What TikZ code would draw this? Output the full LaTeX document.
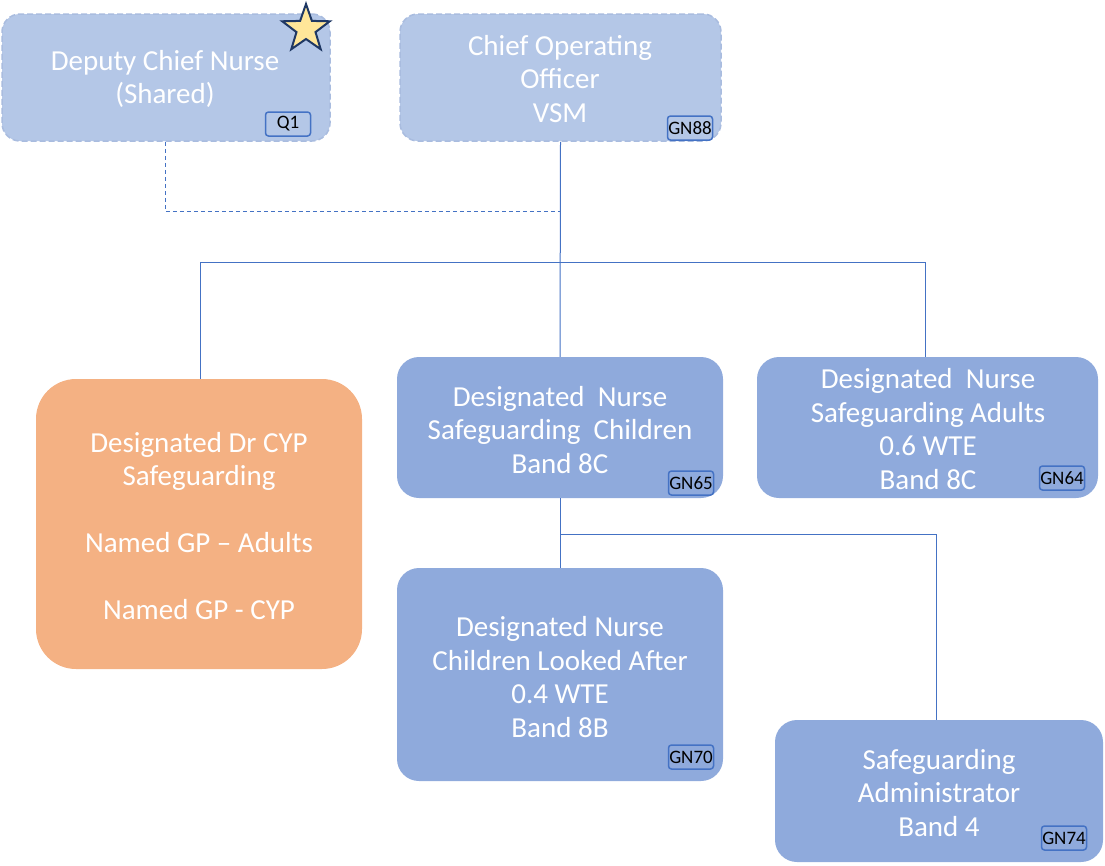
\documentclass[tikz,border=0pt]{standalone}
\usepackage{fontspec}
\setmainfont{Carlito}
\usetikzlibrary{shapes.geometric}
\definecolor{boxblue}{HTML}{8FAADC}
\definecolor{paleblue}{HTML}{B4C7E7}
\definecolor{dashedge}{HTML}{A9BCDF}
\definecolor{linkblue}{HTML}{4472C4}
\definecolor{orangebox}{HTML}{F4B183}
\definecolor{starfill}{HTML}{FFE699}
\definecolor{starline}{HTML}{1F3864}
\tikzset{
  solidbox/.style={rectangle, rounded corners=22pt, fill=boxblue, draw=none, inner sep=0pt},
  dashbox/.style={rectangle, rounded corners=18pt, fill=paleblue, draw=dashedge, dashed, dash pattern=on 6pt off 3pt, line width=1.5pt, inner sep=0pt},
  orbox/.style={rectangle, rounded corners=40pt, fill=orangebox, draw=none, inner sep=0pt},
  label/.style={text=white, align=center, font=\fontsize{29}{33.5}\selectfont, inner sep=0pt},
  tag/.style={rectangle, rounded corners=3pt, draw=linkblue, line width=1.5pt, font=\fontsize{19}{20}\selectfont, inner sep=0pt, minimum height=24pt, minimum width=45pt, text=black},
  link/.style={draw=linkblue, line width=1pt},
  dlink/.style={draw=linkblue, line width=1pt, dash pattern=on 4pt off 3pt},
}
\begin{document}
\begin{tikzpicture}[x=1pt,y=-1pt]
\useasboundingbox (0,0) rectangle (1105,865);
% boxes
\node[dashbox, minimum width=328pt, minimum height=127pt] (dcn) at (166,77.5) {};
\node[dashbox, minimum width=321pt, minimum height=127pt] (coo) at (560.5,77.5) {};
\node[orbox, minimum width=326pt, minimum height=290pt] (drc) at (199,524) {};
\node[solidbox, minimum width=326pt, minimum height=141pt] (dnc) at (560,427.5) {};
\node[solidbox, minimum width=341pt, minimum height=141pt] (dna) at (927.5,427.5) {};
\node[solidbox, minimum width=326pt, minimum height=213pt] (cla) at (560,674.5) {};
\node[solidbox, minimum width=328pt, minimum height=142pt] (adm) at (939,791) {};
% texts
\node[label] (tdcn) at (165,79) {Deputy Chief Nurse\\(Shared)};
\node[label] (tcoo) at (560,79) {Chief Operating\\Officer\\VSM};
\node[label] (tdrc) at (199,526) {Designated Dr CYP\\Safeguarding\\[33.5pt]Named GP -- Adults\\[33.5pt]Named GP - CYP};
\node[label] (tdnc) at (560,430) {Designated\ \ Nurse\\Safeguarding\ \ Children\\Band 8C};
\node[label] (tdna) at (928,429) {Designated\ \ Nurse\\Safeguarding Adults\\0.6 WTE\\Band 8C};
\node[label] (tcla) at (560,677) {Designated Nurse\\Children Looked After\\0.4 WTE\\Band 8B};
\node[label] (tadm) at (939,793) {Safeguarding\\Administrator\\Band 4};
% tags
\node[tag, fill=paleblue] (q1) at (288,124) {Q1};
\node[tag, fill=paleblue] (gn88) at (690,128) {GN88};
\node[tag, fill=boxblue] (gn65) at (691,483) {GN65};
\node[tag, fill=boxblue] (gn64) at (1062,478) {GN64};
\node[tag, fill=boxblue] (gn70) at (691,757) {GN70};
\node[tag, fill=boxblue] (gn74) at (1064,838) {GN74};
% star
\node[star, star points=5, star point ratio=2.5, fill=starfill, draw=starline, line width=2pt, minimum size=50pt, inner sep=0pt] (st) at (306,29) {};
% connectors
\coordinate (j1) at (560,262);
\coordinate (jl) at (200,262);
\coordinate (jr) at (925,262);
\coordinate (dd1) at (165,211);
\coordinate (dd2) at (560,211);
\coordinate (j2) at (560,534);
\coordinate (j3) at (936,534);
\path[link] (coo.south) -- (dnc.north);
\path[link] (jl) -- (jr);
\path[link] (jl) -- (jl |- drc.north);
\path[link] (jr) -- (jr |- dna.north);
\path[dlink] (dcn.south -| dd1) -- (dd1) -- (dd2);
\path[link] (dnc.south) -- (cla.north);
\path[link] (j2) -- (j3) -- (j3 |- adm.north);
\end{tikzpicture}
\end{document}
